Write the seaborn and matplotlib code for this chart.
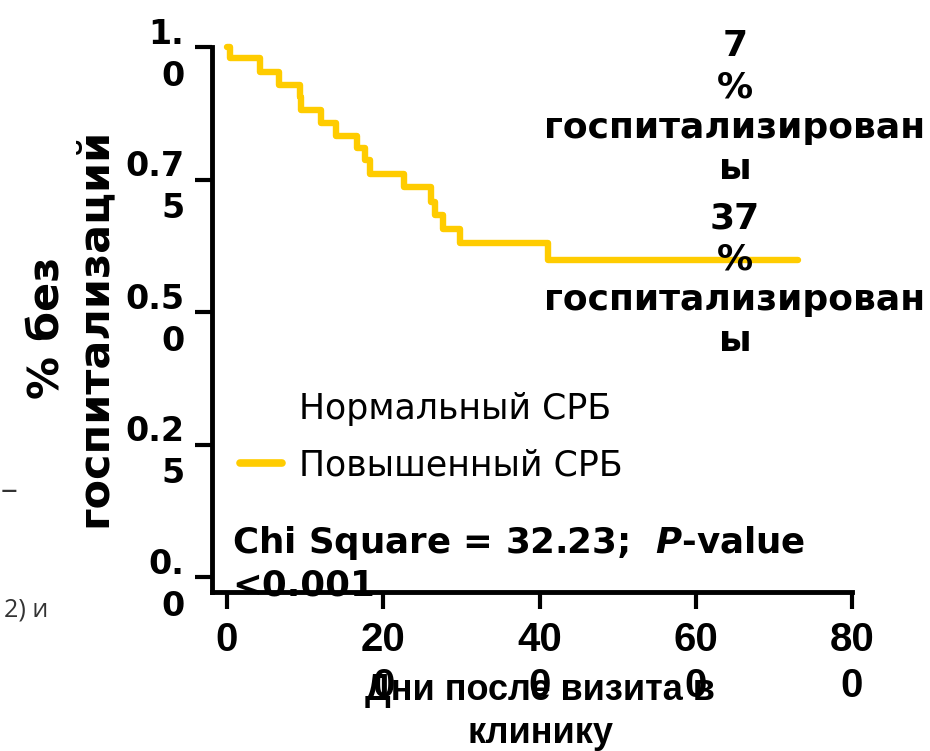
import numpy as np
import pandas as pd
import seaborn as sns
import matplotlib
matplotlib.use("Agg")
import matplotlib.pyplot as plt
from matplotlib.lines import Line2D

# Kaplan-Meier curve of the elevated-CRP group
days = [0, 4, 42, 66, 93, 95, 120, 140, 167, 177, 183, 226, 261, 266, 277, 298, 411, 731]
surv = [1.0, 0.979, 0.953, 0.928, 0.906, 0.881, 0.857, 0.832, 0.809, 0.787,
        0.760, 0.735, 0.708, 0.683, 0.657, 0.630, 0.598, 0.598]

xticks = [0, 200, 400, 600, 800]
xticklabels = ["0", "20\n0", "40\n0", "60\n0", "80\n0"]
yticks = [0, 0.25, 0.5, 0.75, 1.0]
yticklabels = ["0.\n0", "0.2\n5", "0.5\n0", "0.7\n5", "1.\n0"]
groups = ["Нормальный СРБ", "Повышенный СРБ"]
pct_labels = ["7\n%\nгоспитализирован\nы", "37\n%\nгоспитализирован\nы"]
stat_text = "Chi Square = 32.23;  $P$-value\n<0.001"

yellow = "#FFCC00"

sns.set_style("ticks")
plt.rcParams['font.family'] = ['DejaVu Sans']
plt.rcParams['text.color'] = 'black'
plt.rcParams['axes.labelcolor'] = 'black'
plt.rcParams['xtick.color'] = 'black'
plt.rcParams['ytick.color'] = 'black'
plt.rcParams['mathtext.fontset'] = 'custom'
plt.rcParams['mathtext.it'] = 'DejaVu Sans:italic:bold'
plt.rcParams['mathtext.rm'] = 'DejaVu Sans:bold'
narrow = ['Liberation Sans', 'DejaVu Sans']

df = pd.DataFrame({"days": days, "surv": surv})

fig = plt.figure(figsize=(9.3, 7.51), dpi=100)
ax = fig.add_axes([212/930, 1 - 592/751, 640/930, 545/751])

sns.lineplot(data=df, x="days", y="surv", estimator=None, sort=False,
             drawstyle="steps-post", color=yellow, lw=4.6, ax=ax, clip_on=False)

ax.set_xlim(-19.2, 800)
ax.set_ylim(-0.028, 1.0)
sns.despine(ax=ax)
for s in ["left", "bottom"]:
    ax.spines[s].set_linewidth(3.5)
    ax.spines[s].set_color("black")

ax.set_xticks(xticks)
ax.set_xticklabels(xticklabels, fontsize=29, fontweight='bold', family=narrow,
                   linespacing=1.27)
ax.set_yticks(yticks)
ax.set_yticklabels(yticklabels, fontsize=24, fontweight='bold', linespacing=1.36)
ax.tick_params(axis='both', direction='out', length=12.5, width=3)
ax.tick_params(axis='y', pad=7.5)
ax.tick_params(axis='x', pad=8.5)

ax.set_xlabel("Дни после визита в\nклинику", fontsize=26, fontweight='bold',
              family=narrow, linespacing=1.3, va='top')
ax.xaxis.set_label_coords(0.5125, -0.148)
ax.set_ylabel("% без\nгоспитализаций", fontsize=31, fontweight='bold',
              va='center', ha='center', linespacing=1.15)
ax.yaxis.set_label_coords(-0.222, 0.485)

# percentages to the right of the curve
ax.text(650, 0.886, pct_labels[0], ha='center', va='center', fontsize=26,
        fontweight='bold', linespacing=1.25, clip_on=False)
ax.text(650, 0.561, pct_labels[1], ha='center', va='center', fontsize=26,
        fontweight='bold', linespacing=1.25, clip_on=False)

handles = [Line2D([], [], color='none', lw=5.5),
           Line2D([], [], color=yellow, lw=5.5)]
ax.legend(handles, groups, loc='upper left', bbox_to_anchor=(0.022, 0.392),
          borderaxespad=0, frameon=False, fontsize=25, handlelength=1.2,
          handletextpad=0.5, labelspacing=0.63)

ax.text(0.032, 0.125, stat_text, transform=ax.transAxes, ha='left', va='top',
        fontsize=25.7, fontweight='bold', linespacing=1.26)

# bits of the slide text cut off on the left
fig.text(17/930, 1 - 492/751, "–", fontsize=24, color='#333333',
         ha='right', va='center', family='Open Sans')
fig.text(48/930, 1 - 610/751, "2) и", fontsize=18, color='#333333',
         ha='right', va='center', family='Open Sans')

fig.savefig("out.png", dpi=100)
